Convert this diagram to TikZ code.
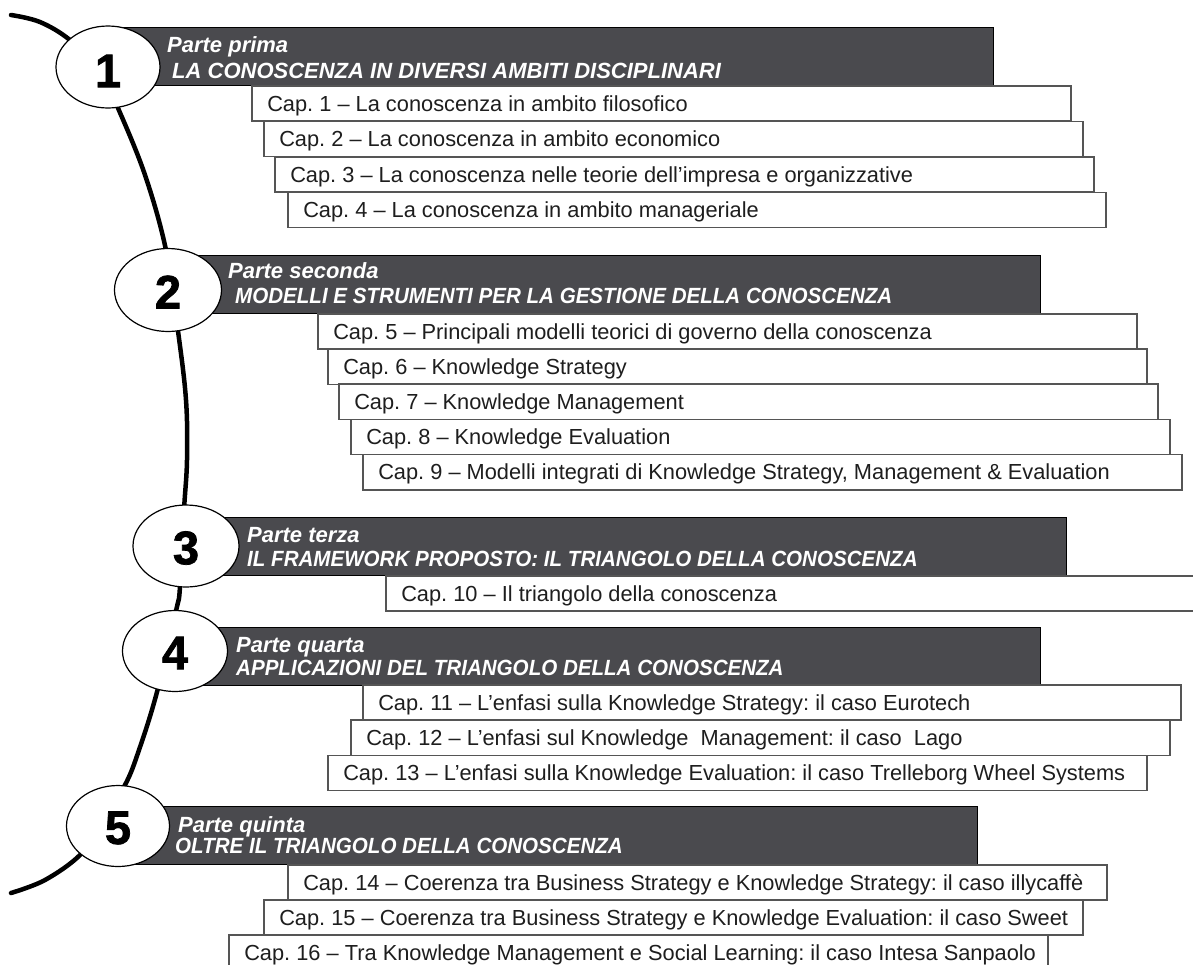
\documentclass[tikz,border=0pt]{standalone}
\usepackage{fontspec}
\setmainfont{Liberation Sans}
\newfontfamily\numfont[FakeBold=1.6]{Liberation Sans Bold}
\usetikzlibrary{shapes.geometric}
\definecolor{barfill}{RGB}{74,74,78}
\definecolor{boxline}{RGB}{85,85,85}
\definecolor{captext}{RGB}{30,30,30}
\newcommand\chapbox[5]{%
  \pgfmathsetmacro\cwid{#4-#2-31}%
  \node[chap] (#1) at (#2,#3) {\makebox[\cwid pt][l]{#5}};}
\newcommand\narrow[1]{\scalebox{0.935}[1]{#1}}
\begin{document}
\begin{tikzpicture}[x=1pt,y=-1pt,
  bar/.style={draw=black, line width=0.8pt, fill=barfill, anchor=north west, minimum height=58pt, inner sep=0pt},
  chap/.style={draw=boxline, line width=1.5pt, fill=white, anchor=north west, minimum height=35.3pt, inner xsep=15.5pt, inner ysep=0pt, text height=15.5pt, text depth=0pt, font=\frenchspacing\fontsize{21.8}{24}\selectfont, text=captext},
  ttl/.style={anchor=base west, inner sep=0pt, text=white, font=\frenchspacing\fontsize{22}{24}\selectfont\bfseries\itshape},
  numell/.style={ellipse, draw=black, line width=1.2pt, fill=white, inner sep=0pt},
  num/.style={inner sep=0pt, font=\fontsize{47}{47}\selectfont\numfont},
  spine/.style={line width=4.5pt, line cap=round}]
\clip (0,0) rectangle (1193,964);
\fill[white] (0,0) rectangle (1193,964);

% spine curve
\draw[spine] plot[smooth, tension=0.6] coordinates {(11,15) (40,22) (70,40) (100,70) (118,108) (145,175) (166,250) (178,331) (186,400) (187,460) (184,510) (180,587) (176,611) (157,692) (139,750) (125,785) (100,825) (80,855) (45,880) (11,893)};

% part bars
\node[bar, minimum width=885pt] (b1) at (108,27) {};
\node[bar, minimum width=872pt] (b2) at (168,255) {};
\node[bar, minimum width=880pt] (b3) at (186,517) {};
\node[bar, minimum width=865pt] (b4) at (175,627) {};
\node[bar, minimum width=859pt] (b5) at (118,806) {};

% part titles
\node[ttl] (t1a) at (167,52) {Parte prima};
\node[ttl] (t1b) at (172,78) {LA CONOSCENZA IN DIVERSI AMBITI DISCIPLINARI};
\node[ttl] (t2a) at (228,278) {Parte seconda};
\node[ttl] (t2b) at (235,303) {\narrow{MODELLI E STRUMENTI PER LA GESTIONE DELLA CONOSCENZA}};
\node[ttl] (t3a) at (247,542) {Parte terza};
\node[ttl] (t3b) at (247,566) {\narrow{IL FRAMEWORK PROPOSTO: IL TRIANGOLO DELLA CONOSCENZA}};
\node[ttl] (t4a) at (236,652) {Parte quarta};
\node[ttl] (t4b) at (236,675) {\narrow{APPLICAZIONI DEL TRIANGOLO DELLA CONOSCENZA}};
\node[ttl] (t5a) at (178,832) {Parte quinta};
\node[ttl] (t5b) at (175,853) {\narrow{OLTRE IL TRIANGOLO DELLA CONOSCENZA}};

% chapters
\chapbox{c1}{251}{85}{1070}{Cap. 1 – La conoscenza in ambito filosofico}
\chapbox{c2}{263}{120.5}{1082}{Cap. 2 – La conoscenza in ambito economico}
\chapbox{c3}{274}{156}{1093}{Cap. 3 – La conoscenza nelle teorie dell’impresa e organizzative}
\chapbox{c4}{287}{191.5}{1105}{Cap. 4 – La conoscenza in ambito manageriale}

\chapbox{c5}{317}{313}{1136}{Cap. 5 – Principali modelli teorici di governo della conoscenza}
\chapbox{c6}{327}{348.2}{1146}{Cap. 6 – Knowledge Strategy}
\chapbox{c7}{338}{383.4}{1157}{Cap. 7 – Knowledge Management}
\chapbox{c8}{350}{418.6}{1169}{Cap. 8 – Knowledge Evaluation}
\chapbox{c9}{362}{453.8}{1181}{Cap. 9 – Modelli integrati di Knowledge Strategy, Management \& Evaluation}

\chapbox{c10}{385}{575}{1230}{Cap. 10 – Il triangolo della conoscenza}

\chapbox{c11}{362}{684}{1180}{Cap. 11 – L’enfasi sulla Knowledge Strategy: il caso Eurotech}
\chapbox{c12}{350}{719.3}{1169}{Cap. 12 – L’enfasi sul Knowledge\ \ Management: il caso\ \ Lago}
\chapbox{c13}{327}{754.6}{1146}{Cap. 13 – L’enfasi sulla Knowledge Evaluation: il caso Trelleborg Wheel Systems}

\chapbox{c14}{287}{864}{1106}{Cap. 14 – Coerenza tra Business Strategy e Knowledge Strategy: il caso illycaffè}
\chapbox{c15}{263}{899}{1082}{Cap. 15 – Coerenza tra Business Strategy e Knowledge Evaluation: il caso Sweet}
\chapbox{c16}{228}{934}{1047}{Cap. 16 – Tra Knowledge Management e Social Learning: il caso Intesa Sanpaolo}

% numbered ellipses
\node[numell, minimum width=104pt, minimum height=82pt] (e1) at (108,67) {};
\node[numell, minimum width=107pt, minimum height=83pt] (e2) at (168,290) {};
\node[numell, minimum width=106pt, minimum height=82pt] (e3) at (186,546) {};
\node[numell, minimum width=105pt, minimum height=81pt] (e4) at (175,651) {};
\node[numell, minimum width=103pt, minimum height=81pt] (e5) at (118,826) {};
\node[num] (n1) at ([yshift=-4pt]e1.center) {1};
\node[num] (n2) at ([yshift=-2pt]e2.center) {2};
\node[num] (n3) at ([yshift=-2pt]e3.center) {3};
\node[num] (n4) at ([yshift=-2pt]e4.center) {4};
\node[num] (n5) at ([yshift=-2pt]e5.center) {5};
\end{tikzpicture}
\end{document}
